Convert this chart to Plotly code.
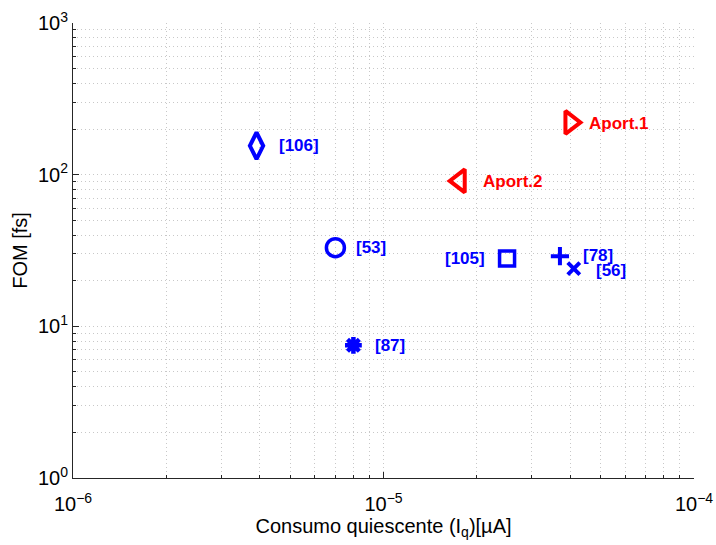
import numpy as np
import plotly.graph_objects as go

# Reference designs: quiescent current vs figure of merit
refs = ["[106]", "[53]", "[87]", "[105]", "[78]", "[56]"]
refs_iq = [3.9e-6, 7.0e-6, 8.0e-6, 2.5e-5, 3.7e-5, 4.1e-5]
refs_fom = [155, 33, 7.5, 28, 29, 24]
refs_symbol = ["diamond-tall-open", "circle-open", "asterisk-open",
               "square-open", "cross-thin-open", "x-thin-open"]

# Contributions of this work
aport = ["Aport.1", "Aport.2"]
aport_iq = [4.0e-5, 1.76e-5]
aport_fom = [221, 91]
aport_symbol = ["triangle-right-open", "triangle-left-open"]

# Decade ticks
x_ticks = [1e-6, 1e-5, 1e-4]
x_tick_text = ["10<sup>−6</sup>", "10<sup>−5</sup>", "10<sup>−4</sup>"]
y_ticks = [1, 10, 100, 1000]
y_tick_text = ["10<sup>0</sup>", "10<sup>1</sup>", "10<sup>2</sup>", "10<sup>3</sup>"]

BLUE = "#0000ff"
RED = "#ff0000"
FONT = "Liberation Sans, Arial, sans-serif"

fig = go.Figure()

sizes = {"diamond-tall-open": 19, "circle-open": 18, "asterisk-open": 14,
         "square-open": 15, "cross-thin-open": 13, "x-thin-open": 12,
         "triangle-right-open": 20, "triangle-left-open": 20}
widths = {"diamond-tall-open": 4, "circle-open": 3.5, "asterisk-open": 4.5,
          "square-open": 3.5, "cross-thin-open": 4, "x-thin-open": 4,
          "triangle-right-open": 4, "triangle-left-open": 4}

for name, x, y, sym in zip(refs, refs_iq, refs_fom, refs_symbol):
    fig.add_trace(go.Scatter(
        x=[x], y=[y], mode="markers", name=name, showlegend=False,
        marker=dict(symbol=sym, size=sizes[sym], color=BLUE,
                    line=dict(color=BLUE, width=widths[sym])),
    ))

for name, x, y, sym in zip(aport, aport_iq, aport_fom, aport_symbol):
    fig.add_trace(go.Scatter(
        x=[x], y=[y], mode="markers", name=name, showlegend=False,
        marker=dict(symbol=sym, size=sizes[sym], color=RED,
                    line=dict(color=RED, width=widths[sym])),
    ))

# label placement relative to each marker (pixels)
label_shift = {
    "[106]": (20, 0, "left"), "[53]": (19, 0, "left"), "[87]": (20, 0, "left"),
    "[105]": (-20, 0, "right"), "[78]": (21, 1, "left"), "[56]": (20, -2, "left"),
    "Aport.1": (17, -1, "left"), "Aport.2": (21, -1, "left"),
}

for names, xs, ys, col in ((refs, refs_iq, refs_fom, BLUE),
                           (aport, aport_iq, aport_fom, RED)):
    for name, x, y in zip(names, xs, ys):
        dx, dy, anchor = label_shift[name]
        fig.add_annotation(
            x=np.log10(x), y=np.log10(y), xref="x", yref="y",
            text=f"<b>{name}</b>", showarrow=False,
            xanchor=anchor, yanchor="middle", xshift=dx, yshift=dy,
            font=dict(family=FONT, size=17, color=col),
        )

grid = dict(gridcolor="#c8c8c8", griddash="1px,3px", gridwidth=1)
axis_common = dict(
    type="log",
    showline=True, linecolor="#262626", linewidth=1, mirror=False,
    ticks="inside", ticklen=6, tickcolor="#262626", tickwidth=1,
    tickfont=dict(family=FONT, size=20, color="#000000"),
    showgrid=True, zeroline=False, **grid,
    minor=dict(dtick="D1", ticks="inside", ticklen=3, tickcolor="#262626",
               showgrid=True, **grid),
)

fig.update_xaxes(
    range=[-6, -4], tickvals=x_ticks, ticktext=x_tick_text,
    ticklabelstandoff=8,
    title=dict(text="Consumo quiescente (I<sub>q</sub>)[µA]",
               font=dict(family=FONT, size=20, color="#000000"), standoff=3),
    **axis_common,
)
fig.update_yaxes(
    range=[0, 3], tickvals=y_ticks, ticktext=y_tick_text,
    title=dict(text="FOM [fs]",
               font=dict(family=FONT, size=20, color="#000000"), standoff=4),
    **axis_common,
)

fig.update_layout(
    width=716, height=545,
    margin=dict(l=73, r=22, t=23, b=67, autoexpand=False),
    paper_bgcolor="white", plot_bgcolor="white",
    font=dict(family=FONT),
)

fig.write_html("out.html")
